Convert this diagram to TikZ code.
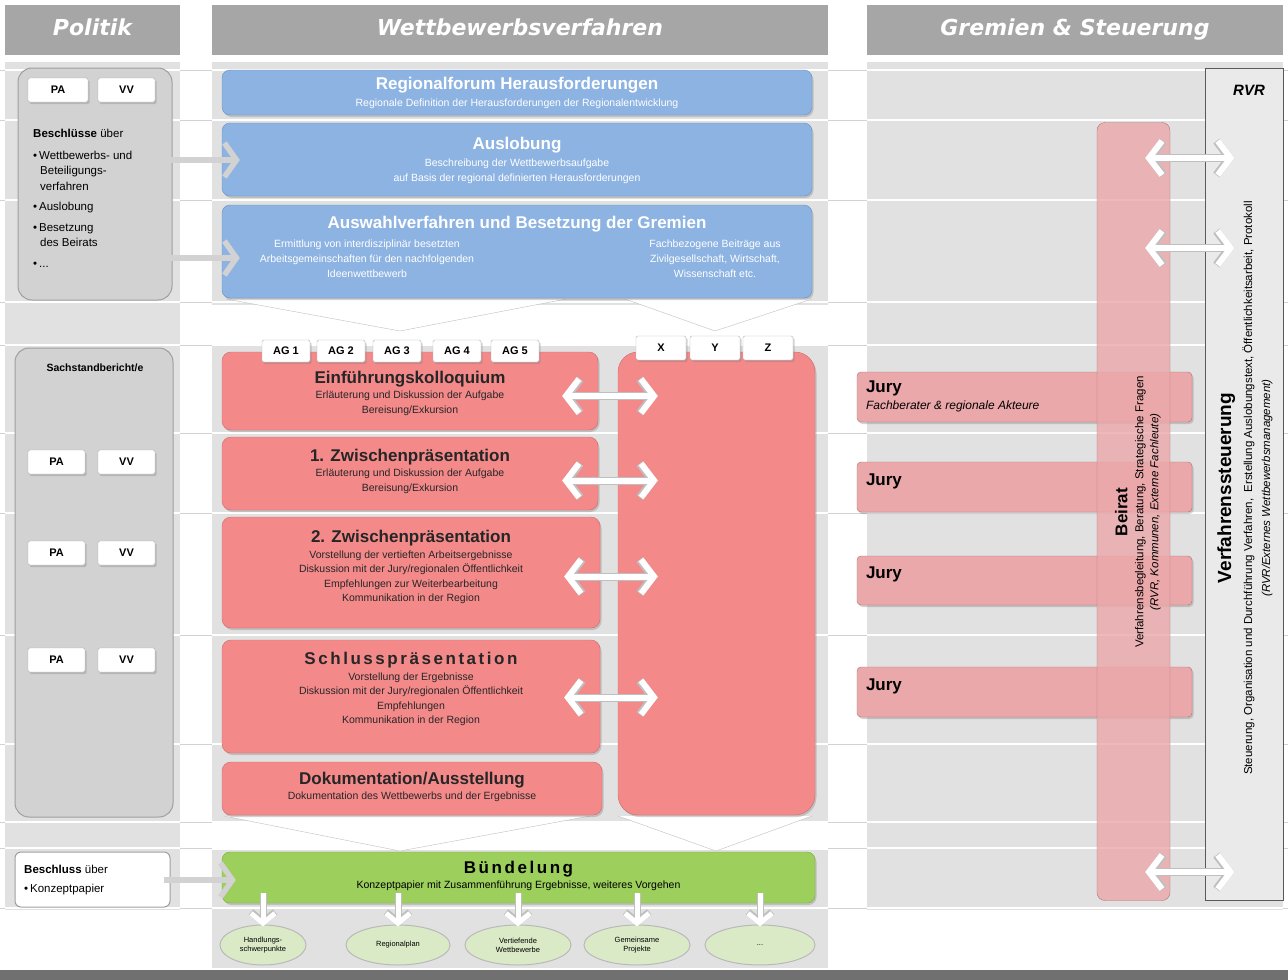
\documentclass[tikz,border=0pt]{standalone}
\usepackage{fontspec}
\setmainfont{Liberation Sans}
\newfontfamily\headfont{DejaVu Sans}
\usetikzlibrary{positioning,shapes.geometric,arrows.meta,shadows}

\definecolor{headgray}{HTML}{A6A6A6}
\definecolor{panelgray}{HTML}{E1E1E1}
\definecolor{boxblue}{HTML}{8DB3E2}
\definecolor{blueline}{HTML}{6A90C2}
\definecolor{boxred}{HTML}{F4898A}
\definecolor{redline}{HTML}{CC6B6B}
\definecolor{juryred}{HTML}{EBA8AA}
\definecolor{boxgreen}{HTML}{9CCF5B}
\definecolor{greenline}{HTML}{78AA3C}
\definecolor{ovalgreen}{HTML}{DBEAC6}
\definecolor{darkbar}{HTML}{707070}

\newcommand{\fsz}[2]{\fontsize{#1}{#2}\selectfont}

\begin{document}
\begin{tikzpicture}[
		x=1pt, y=-1pt,
		headbar/.style={fill=headgray, text=white, inner sep=0pt, text height=16pt, text depth=5pt, font=\headfont\bfseries\itshape\fsz{22}{24}},
		panel/.style={fill=panelgray},
		sepline/.style={white, line width=1.5pt},
		gapline/.style={gray!35, line width=0.7pt},
		boxshadow/.style={drop shadow={shadow xshift=1.5pt, shadow yshift=-2pt, opacity=0.35}},
		polbox/.style={draw=gray!75, fill=panelgray!85!gray, rounded corners=14pt, line width=1pt},
		tagbox/.style={draw=gray!60, fill=white, rounded corners=1.5pt, inner sep=0pt, font=\bfseries\fsz{11}{13}, boxshadow},
		bluebox/.style={draw=blueline, fill=boxblue, rounded corners=8pt, inner sep=0pt, boxshadow},
		redbox/.style={draw=redline, fill=boxred, rounded corners=9pt, inner sep=0pt, boxshadow},
		jurybox/.style={draw=redline!60!gray, fill=juryred, rounded corners=4pt, inner sep=0pt, boxshadow},
		greenbox/.style={draw=greenline, fill=boxgreen, rounded corners=8pt, inner sep=0pt, boxshadow},
		oval/.style={ellipse, draw=gray!55, fill=ovalgreen, inner sep=0pt, line width=1pt, align=center, font=\fsz{7.5}{9}},
		bluetxt/.style={text=white, align=center, inner sep=0pt, font=\fsz{10.5}{15}},
		redtxt/.style={text=black!85, align=center, inner sep=0pt, font=\fsz{10.5}{14.5}},
		jurytxt/.style={align=left, inner sep=0pt, font=\bfseries\fsz{17}{19}},
		poltxt/.style={align=left, inner sep=0pt, font=\fsz{11.5}{15.5}},
		grayarr/.style={draw=gray!35, line width=5.5pt, -{Straight Barb[length=12pt,width=34pt]}},
		wdarrow/.style={white, line width=6pt, {Straight Barb[length=13pt,width=34pt]}-{Straight Barb[length=13pt,width=34pt]},
			preaction={draw=gray!50, line width=8pt, {Straight Barb[length=13pt,width=34pt]}-{Straight Barb[length=13pt,width=34pt]}}},
		wdown/.style={white, line width=5pt, -{Straight Barb[length=10pt,width=24pt]},
			preaction={draw=gray!50, line width=7pt, -{Straight Barb[length=10pt,width=24pt]}}},
	]
	\fill[white] (0,0) rectangle (1288,980);
	\useasboundingbox (0,0) rectangle (1288,980);
	
	% Spalten und Zeilen
	\fill[panel] (5,62) rectangle (180,910);
	\fill[panel] (212,62) rectangle (828,305);
	\fill[panel] (212,345) rectangle (828,822);
	\fill[panel] (212,850) rectangle (828,968);
	\fill[panel] (867,62) rectangle (1283,910);
	\foreach \y in {70,120,200,302,345,433,513,635,744,822,848,908}{
		\draw[sepline] (0,\y) -- (1288,\y);
		\foreach \a/\b in {0/5, 180/212, 828/867, 1283/1288}{
			\draw[gapline] (\a,\y) -- (\b,\y);
		}
	}
	\fill[darkbar] (0,970) rectangle (1288,980);
	
	\node[headbar, minimum width=175, minimum height=50] (hpol) at (92.5,30) {Politik};
	\node[headbar, minimum width=616, minimum height=50] (hwett) at (520,30) {Wettbewerbsverfahren};
	\node[headbar, minimum width=416, minimum height=50] (hgrem) at (1075,30) {Gremien \& Steuerung};
	
	% Trichter
	\foreach \l/\m/\r/\t/\b in {226/400/566/299/331, 625/715/812/299/331, 224/400/590/816/851, 618/716/812/816/851}{
		\fill[white] (\l,\t) -- (\m,\b) -- (\r,\t) -- cycle;
		\draw[gray!50] (\l,\t) -- (\m,\b) -- (\r,\t);
	}
	
	% Politik
	\node[polbox, minimum width=154, minimum height=232] (pol1) at (95,184) {};
	\node[polbox, minimum width=158, minimum height=469] (pol2) at (94,582.5) {};
	\node[draw=gray!75, fill=white, rounded corners=6pt, line width=1pt, minimum width=155, minimum height=55] (pol3) at (92.5,879.5) {};
	\node[tagbox, minimum width=60, minimum height=24] (pa0) at (58,90) {PA};
	\node[tagbox, minimum width=57, minimum height=24] (vv0) at (126.5,90) {VV};
	\foreach \n/\y in {1/462, 2/553, 3/660}{
		\node[tagbox, minimum width=57, minimum height=24] (pa\n) at (56.5,\y) {PA};
		\node[tagbox, minimum width=57, minimum height=24] (vv\n) at (126.5,\y) {VV};
	}
	\node[poltxt, anchor=north west] (beschl) at (33,129) {\textbf{Beschlüsse} über\\[6pt]
		\textbullet\,Wettbewerbs- und\\\hspace*{7pt}Beteiligungs-\\\hspace*{7pt}verfahren\\[5pt]
		\textbullet\,Auslobung\\[5pt]
		\textbullet\,Besetzung\\\hspace*{7pt}des Beirats\\[5pt]
		\textbullet\,...};
	\node[font=\bfseries\fsz{10.5}{12}] (sachst) at (95,368) {Sachstandbericht/e};
	\node[poltxt, anchor=west] (beschl2) at (24,880) {\textbf{Beschluss} über\\[3pt]\textbullet\,Konzeptpapier};
	
	% Wettbewerbsverfahren
	\node[bluebox, minimum width=590, minimum height=45] (regio) at (517,92.5) {};
	\node[bluetxt] (regioT) at (517,93) {{\bfseries\fsz{17}{19}Regionalforum Herausforderungen}\\[2pt]Regionale Definition der Herausforderungen der Regionalentwicklung};
	\node[bluebox, minimum width=590, minimum height=73] (auslob) at (517,159.5) {};
	\node[bluetxt] (auslobT) at (517,160) {{\bfseries\fsz{17}{19}Auslobung}\\[2pt]Beschreibung der Wettbewerbsaufgabe\\auf Basis der regional definierten Herausforderungen};
	\node[bluebox, minimum width=590, minimum height=93] (auswahl) at (517,251.5) {};
	\node[bluetxt, font=\bfseries\fsz{17}{19}] (auswahlT) at (517,224) {Auswahlverfahren und Besetzung der Gremien};
	\node[bluetxt] (auswahlL) at (367,259) {Ermittlung von interdisziplinär besetzten\\Arbeitsgemeinschaften für den nachfolgenden\\Ideenwettbewerb};
	\node[bluetxt] (auswahlR) at (715,259) {Fachbezogene Beiträge aus\\Zivilgesellschaft, Wirtschaft,\\Wissenschaft etc.};
	
	\node[redbox, minimum width=376, minimum height=78] (einf) at (410,391) {};
	\node[redtxt] (einfT) at (410,393) {{\bfseries\fsz{17}{19}Einführungskolloquium}\\[1pt]Erläuterung und Diskussion der Aufgabe\\Bereisung/Exkursion};
	\node[redbox, minimum width=376, minimum height=73] (zw1) at (410,473.5) {};
	\node[redtxt] (zw1T) at (410,471) {{\bfseries\fsz{17}{19}1. Zwischenpräsentation}\\[1pt]Erläuterung und Diskussion der Aufgabe\\Bereisung/Exkursion};
	\node[redbox, minimum width=378, minimum height=111] (zw2) at (411,572.5) {};
	\node[redtxt] (zw2T) at (411,567) {{\bfseries\fsz{17}{19}2. Zwischenpräsentation}\\[1pt]Vorstellung der vertieften Arbeitsergebnisse\\Diskussion mit der Jury/regionalen Öffentlichkeit\\Empfehlungen zur Weiterbearbeitung\\Kommunikation in der Region};
	\node[redbox, minimum width=378, minimum height=113] (schluss) at (411,696.5) {};
	\node[redtxt] (schlussT) at (411,689) {{\bfseries\fsz{17}{19}\addfontfeature{LetterSpace=15}Schlusspräsentation}\\[1pt]Vorstellung der Ergebnisse\\Diskussion mit der Jury/regionalen Öffentlichkeit\\Empfehlungen\\Kommunikation in der Region};
	\node[redbox, minimum width=380, minimum height=53] (doku) at (412,788.5) {};
	\node[redtxt] (dokuT) at (412,787) {{\bfseries\fsz{17}{19}Dokumentation/Ausstellung}\\[1pt]Dokumentation des Wettbewerbs und der Ergebnisse};
	\node[redbox, rounded corners=20pt, minimum width=197, minimum height=463] (bigred) at (716.5,583.5) {};
	
	\foreach \n/\x in {1/286, 2/341, 3/397, 4/457, 5/515}{
		\node[tagbox, minimum width=48, minimum height=22] (ag\n) at (\x,351) {AG \n};
	}
	\foreach \t/\x in {X/661, Y/715, Z/768}{
		\node[tagbox, minimum width=50, minimum height=24] (tag\t) at (\x,348) {\t};
	}
	
	\foreach \s/\dy in {einf/-5, zw1/-7, zw2/-4, schluss/-1}{
		\draw[wdarrow] ([xshift=-36, yshift=\dy]\s.east) -- ([xshift=40, yshift=\dy]\s.east -| bigred.west);
	}
	
	\node[greenbox, minimum width=593, minimum height=51] (buendel) at (518.5,877.5) {};
	\node[redtxt, text=black] (buendelT) at (518.5,876) {{\bfseries\fsz{17}{19}\addfontfeature{LetterSpace=15}Bündelung}\\[1pt]Konzeptpapier mit Zusammenführung Ergebnisse, weiteres Vorgehen};
	
	\node[oval, minimum width=86, minimum height=40] (ov1) at (263,945) {Handlungs-\\schwerpunkte};
	\node[oval, minimum width=104, minimum height=40] (ov2) at (398,945) {Regionalplan};
	\node[oval, minimum width=106, minimum height=40] (ov3) at (518,945) {Vertiefende\\Wettbewerbe};
	\node[oval, minimum width=106, minimum height=40] (ov4) at (637,945) {Gemeinsame\\Projekte};
	\node[oval, minimum width=110, minimum height=40] (ov5) at (760,945) {...};
	\foreach \o in {1,...,5}{
		\draw[wdown] ([yshift=10]ov\o.north |- buendel.south) -- ([yshift=-2]ov\o.north);
	}
	
	% Politik -> Verfahren
	\coordinate (rowA) at (0,160);
	\coordinate (rowB) at (0,258);
	\coordinate (rowC) at (0,880);
	\draw[grayarr] ([xshift=-7]pol1.east |- rowA) -- ([xshift=18]auslob.west |- rowA);
	\draw[grayarr] ([xshift=-7]pol1.east |- rowB) -- ([xshift=18]auswahl.west |- rowB);
	\draw[grayarr] ([xshift=-7]pol3.east |- rowC) -- ([xshift=14]buendel.west |- rowC);
	
	% Gremien & Steuerung
	\node[jurybox, minimum width=335, minimum height=50] (jury1) at (1024.5,397) {};
	\node[jurybox, minimum width=335, minimum height=50] (jury2) at (1024.5,487) {};
	\node[jurybox, minimum width=335, minimum height=49] (jury3) at (1024.5,580.5) {};
	\node[jurybox, minimum width=335, minimum height=50] (jury4) at (1024.5,692) {};
	\node[jurytxt, anchor=west] (jury1T) at ([xshift=9,yshift=1]jury1.west) {Jury\\[-2pt]{\normalfont\itshape\fsz{12}{14}Fachberater \& regionale Akteure}};
	\foreach \n in {2,3,4}{
		\node[jurytxt, anchor=west] (jury\n T) at ([xshift=9,yshift=6]jury\n.west) {Jury};
	}
	
	\node[draw=redline!60!gray, fill=juryred, fill opacity=0.8, rounded corners=8pt, minimum width=73, minimum height=778] (beirat) at (1133.5,511.5) {};
	\node[rotate=90, align=center, inner sep=0pt, font=\fsz{11.5}{16}] (beiratT) at (1138,512) {{\bfseries\fsz{17}{20}Beirat}\\Verfahrensbegleitung, Beratung, Strategische Fragen\\[-1pt]\textit{(RVR, Kommunen, Externe Fachleute)}};
	
	\node[draw=gray!70!black, fill=panelgray!70!white, line width=1pt, minimum width=78, minimum height=832] (rvr) at (1244,484) {};
	\node[font=\bfseries\itshape\fsz{15}{17}] (rvrT) at (1249,90) {RVR};
	\node[rotate=90, align=center, inner sep=0pt, font=\fsz{11.5}{21}] (rvrTxt) at (1245,488) {{\bfseries\fsz{19}{22}Verfahrenssteuerung}\\Steuerung, Organisation und Durchführung Verfahren,\ \ Erstellung Auslobungstext, Öffentlichkeitsarbeit, Protokoll\\[-3pt]\textit{(RVR/Externes Wettbewerbsmanagement)}};
	
	\foreach \y in {158,248,872}{
		\coordinate (row\y) at (0,\y);
		\draw[wdarrow] ([xshift=-25]beirat.east |- row\y) -- ([xshift=30]rvr.west |- row\y);
	}
\end{tikzpicture}
\end{document}
